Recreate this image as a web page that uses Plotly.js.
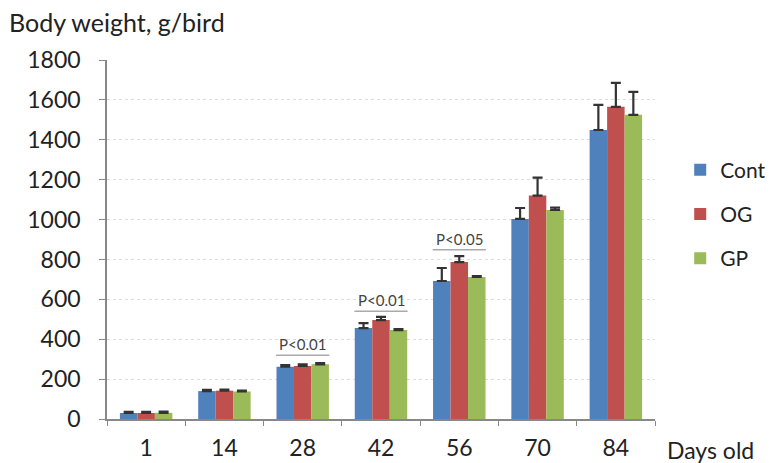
<!DOCTYPE html>
<html><head><meta charset="utf-8">
<script src="https://cdn.plot.ly/plotly-3.0.1.min.js"></script>
<style>html,body{margin:0;padding:0;background:#fff}#c{width:769px;height:463px}</style>
</head><body><div id="c"></div>
<script>
const days = ["1","14","28","42","56","70","84"];
const cont = [30, 140, 262, 456, 692, 1003, 1449];
const contErr = [6, 6, 8, 25, 65, 55, 126];
const og = [30, 142, 266, 496, 787, 1120, 1565];
const ogErr = [6, 6, 8, 16, 30, 90, 120];
const gp = [31, 138, 274, 446, 712, 1048, 1525];
const gpErr = [6, 5, 6, 5, 5, 12, 115];
const pCats = [2, 3, 4];
const pLevels = [320, 540, 848];
const pTexts = ["P<0.01", "P<0.01", "P<0.05"];

const font = "Lato, 'Open Sans', sans-serif";
function tr(name, y, e, color) {
  return {type: "bar", name: name, legendgroup: name, x: days, y: y, marker: {color: color},
    error_y: {type: "data", symmetric: false, array: e, arrayminus: e.map(() => 0), color: "#333", thickness: 2.2, width: 5}};
}
const data = [tr("Cont", cont, contErr, "#4F81BD"), tr("OG", og, ogErr, "#C0504D"), tr("GP", gp, gpErr, "#9BBB59")];
const shapes = pCats.map((c, i) => ({type: "line", xref: "x", yref: "y", x0: c - 0.34, x1: c + 0.34, y0: pLevels[i], y1: pLevels[i], line: {color: "#aaa", width: 1.5}}));
const annotations = pCats.map((c, i) => ({xref: "x", yref: "y", x: c, y: pLevels[i], yanchor: "bottom", yshift: 0, text: pTexts[i], showarrow: false, font: {family: font, size: 15, color: "#444"}}));
annotations.push({xref: "paper", yref: "paper", x: 0, xshift: -100, y: 1.0, yshift: 38, xanchor: "left", yanchor: "middle", text: "Body weight, g/bird", showarrow: false, font: {family: font, size: 25, color: "#222"}});
annotations.push({xref: "paper", yref: "paper", x: 1, xshift: 10, y: 0, yshift: -31, xanchor: "left", yanchor: "middle", text: "Days old", showarrow: false, font: {family: font, size: 23, color: "#222"}});
const layout = {
  width: 769, height: 463,
  margin: {l: 107, r: 114, t: 60, b: 44, autoexpand: false},
  paper_bgcolor: "#fff", plot_bgcolor: "#fff",
  barmode: "group", bargap: 0.33, bargroupgap: 0,
  font: {family: font, color: "#222"},
  xaxis: {type: "category", showline: true, linecolor: "#888", linewidth: 1.5, ticks: "outside", tickson: "boundaries", ticklen: 5, tickcolor: "#888", tickfont: {size: 23, color: "#222"}, ticklabelstandoff: 8, showgrid: false},
  yaxis: {range: [0, 1800], dtick: 200, showline: true, linecolor: "#888", linewidth: 1.5, ticks: "outside", ticklen: 6, tickcolor: "#888", tickfont: {size: 23, color: "#222"}, ticklabelstandoff: 14, gridcolor: "#ddd", griddash: "dot", zeroline: false},
  legend: {x: 1.046, xanchor: "left", y: 0.571, yanchor: "middle", font: {size: 21, color: "#222"}, traceorder: "grouped", tracegroupgap: 14, itemwidth: 30},
  shapes: shapes, annotations: annotations, showlegend: true
};
Plotly.newPlot("c", data, layout, {displayModeBar: false});
</script></body></html>
